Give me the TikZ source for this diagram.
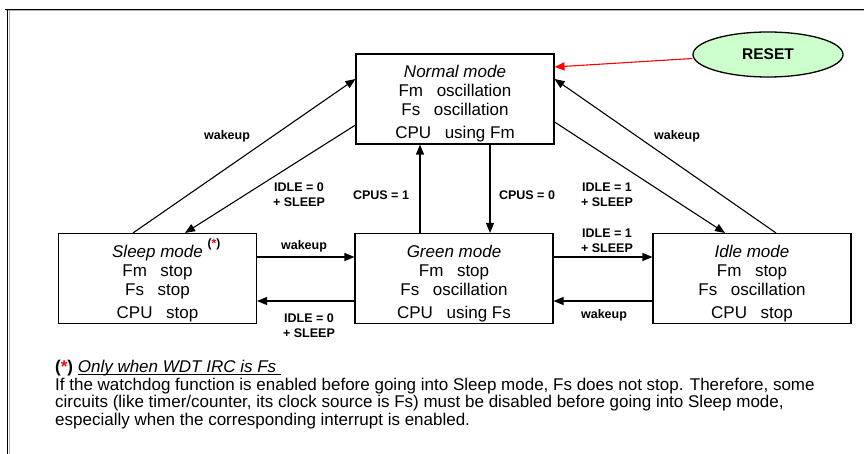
\documentclass[tikz,border=0pt]{standalone}
\usepackage{xcolor}
\usepackage{fontspec}
\setmainfont{Liberation Sans}
\usepackage{tikz}
\usetikzlibrary{shapes,arrows,positioning,calc,arrows.meta}
\definecolor{resetgreen}{HTML}{CCFFCC}
\newcommand{\topgap}{\rule{0pt}{22pt}}
\newcommand{\footul}[1]{\setbox0\hbox{#1}\rlap{\rule[-2.5pt]{\wd0}{0.8pt}}\box0}

\begin{document}
\begin{tikzpicture}[x=1pt,y=-1pt,
        mode/.style={draw,line width=1.1pt,minimum width=198pt,minimum height=90pt,inner sep=0pt,
            align=center,font=\fontsize{17}{19}\selectfont},
        trans/.style={-{Triangle[length=10pt,width=8pt]},line width=1.1pt},
        lbl/.style={align=center,font=\bfseries\fontsize{12.5}{15}\selectfont}]
        \useasboundingbox (0,0) rectangle (864,454);

        % Frame
        \draw[gray!60,line width=1pt] (6,11) -- (864,11);
        \draw[gray!60,line width=1pt] (9,11) -- (9,454);
        \draw[line width=1pt] (5,9.5) -- (864,9.5);
        \draw[line width=1pt] (7.5,9.5) -- (7.5,454);

        % Modes
        \node[mode] (normal) at (455,99) {\topgap\textit{Normal mode}\\Fm\hspace{0.8em}oscillation\\Fs\hspace{0.8em}oscillation\\[4pt]CPU\hspace{0.8em}using Fm};
        \node[mode] (sleep) at (157.5,278.5) {\topgap\textit{Sleep mode}\\Fm\hspace{0.8em}stop\\Fs\hspace{0.8em}stop\\[4pt]CPU\hspace{0.8em}stop};
        \node[mode] (green) at (454,278.5) {\topgap\textit{Green mode}\\Fm\hspace{0.8em}stop\\Fs\hspace{0.8em}oscillation\\[4pt]CPU\hspace{0.8em}using Fs};
        \node[mode] (idle) at (752,278.5) {\topgap\textit{Idle mode}\\Fm\hspace{0.8em}stop\\Fs\hspace{0.8em}oscillation\\[4pt]CPU\hspace{0.8em}stop};
        \node[font=\bfseries\fontsize{12}{12}\selectfont] (star) at (214,244) {(\textcolor{red}{*})};

        % RESET
        \node[ellipse,draw,fill=resetgreen,line width=1.3pt,minimum width=150pt,minimum height=45pt,
            font=\bfseries\fontsize{15.5}{18}\selectfont] (reset) at (768,54.5) {RESET};
        \draw[trans,red] ([yshift=-4pt]reset.west) -- ([yshift=32pt]normal.east);

        % Sleep <-> Normal
        \draw[trans] ([xshift=-24.5pt]sleep.north) -- ([yshift=20pt]normal.west);
        \draw[trans] ([yshift=-26pt]normal.west) -- ([xshift=27.5pt]sleep.north);
        \node[lbl] (l1) at (227,136) {wakeup};
        \node[lbl] (l2) at (299,195) {IDLE = 0\\+ SLEEP};

        % Green <-> Normal
        \draw[trans] ([xshift=-34pt]green.north) -- ([xshift=-34pt]green.north |- normal.south);
        \draw[trans] ([xshift=35pt]normal.south) -- ([xshift=35pt]normal.south |- green.north);
        \node[lbl] (l3) at (381,195) {CPUS = 1};
        \node[lbl] (l4) at (527,195) {CPUS = 0};

        % Idle <-> Normal
        \draw[trans] ([yshift=-23pt]normal.east) -- ([xshift=-27pt]idle.north);
        \draw[trans] ([xshift=24pt]idle.north) -- ([yshift=20pt]normal.east);
        \node[lbl] (l5) at (607,195) {IDLE = 1\\+ SLEEP};
        \node[lbl] (l6) at (677,136) {wakeup};

        % Sleep <-> Green
        \draw[trans] ([yshift=21.5pt]sleep.east) -- ([yshift=21.5pt]green.west);
        \draw[trans] ([yshift=-22.5pt]green.west) -- ([yshift=-22.5pt]sleep.east);
        \node[lbl] (l7) at (304,246) {wakeup};
        \node[lbl] (l8) at (309,326) {IDLE = 0\\+ SLEEP};

        % Green <-> Idle
        \draw[trans] ([yshift=21.5pt]green.east) -- ([yshift=21.5pt]idle.west);
        \draw[trans] ([yshift=-22.5pt]idle.west) -- ([yshift=-22.5pt]green.east);
        \node[lbl] (l9) at (607,241) {IDLE = 1\\+ SLEEP};
        \node[lbl] (l10) at (604,315) {wakeup};

        % Note
        \node[anchor=north west,align=left,inner sep=0pt,font=\fontsize{17}{17.5}\selectfont] (note) at (55,360)
            {\textbf{(\textcolor{red}{*})} \footul{\textit{Only when WDT IRC is Fs}\ }\\
            If the watchdog function is enabled before going into Sleep mode, Fs does not stop. Therefore, some\\
            circuits (like timer/counter, its clock source is Fs) must be disabled before going into Sleep mode,\\
            especially when the corresponding interrupt is enabled.};
    \end{tikzpicture}
\end{document}
